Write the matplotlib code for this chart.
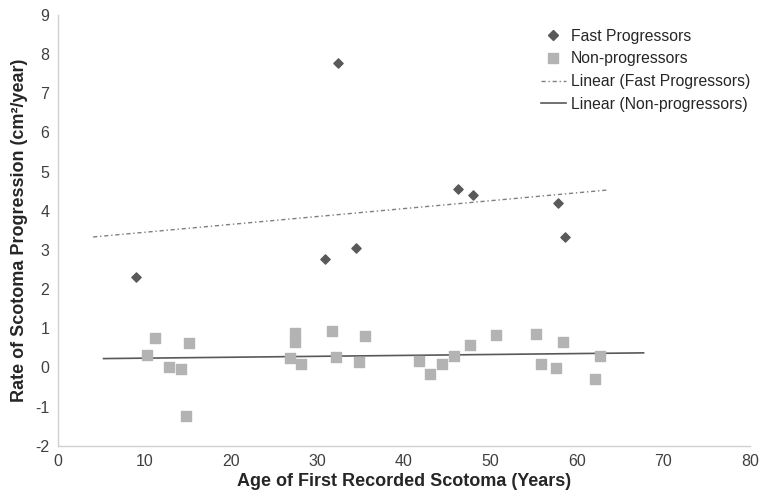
import numpy as np
import matplotlib
matplotlib.use('Agg')
import matplotlib.pyplot as plt
from matplotlib.lines import Line2D

plt.rcParams['font.family'] = ['Liberation Sans', 'DejaVu Sans']
plt.rcParams['axes.unicode_minus'] = False

# Fast progressors (age, rate)
fast_age = [9.1, 30.9, 32.4, 34.5, 46.2, 48.0, 57.8, 58.6]
fast_rate = [2.30, 2.77, 7.77, 3.05, 4.55, 4.40, 4.20, 3.33]

# Non-progressors (age, rate)
non_age = [10.3, 11.3, 12.9, 14.2, 15.2, 14.8, 26.9, 27.4, 27.4, 28.1, 31.7, 32.2,
           34.8, 35.5, 41.7, 43.0, 44.4, 45.8, 47.6, 50.6, 55.3, 55.8, 57.6, 58.4,
           62.1, 62.7]
non_rate = [0.32, 0.75, 0.00, -0.04, 0.63, -1.25, 0.25, 0.87, 0.66, 0.09, 0.92, 0.26,
            0.13, 0.79, 0.16, -0.16, 0.08, 0.30, 0.57, 0.83, 0.84, 0.08, -0.01, 0.65,
            -0.29, 0.29]

xticks = list(range(0, 81, 10))
yticks = list(range(-2, 10))

fig = plt.figure(figsize=(7.63, 4.97), dpi=100)
ax = fig.add_axes([0.0756, 0.1032, 0.9074, 0.867])


def trend(x, y, extend=5):
    # excel-style linear trendline with 5 units forecast both ways
    k, b = np.polyfit(x, y, 1)
    xs = np.array([min(x) - extend, max(x) + extend])
    return xs, k * xs + b


ax.scatter(fast_age, fast_rate, marker='D', s=22, color='#595959', zorder=3)
ax.scatter(non_age, non_rate, marker='s', s=50, color='#b3b3b3', zorder=3)

tx, ty = trend(fast_age, fast_rate)
ax.plot(tx, ty, color='#7f7f7f', lw=1.0, dashes=(3, 2, 1, 2), zorder=2)
tx, ty = trend(non_age, non_rate)
ax.plot(tx, ty, color='#595959', lw=1.2, zorder=2)

ax.set_xlim(0, 80)
ax.set_ylim(-2, 9)
ax.set_xticks(xticks)
ax.set_yticks(yticks)
ax.tick_params(length=0, labelsize=11.5, labelcolor='#404040', pad=6)

for s in ['top', 'right']:
    ax.spines[s].set_visible(False)
for s in ['left', 'bottom']:
    ax.spines[s].set_color('#d0d0d0')
    ax.spines[s].set_linewidth(1.0)

ax.set_xlabel('Age of First Recorded Scotoma (Years)', fontsize=13, fontweight='bold',
              color='#262626', labelpad=3)
ax.set_ylabel('Rate of Scotoma Progression (cm\u00b2/year)', fontsize=13, fontweight='bold',
              color='#262626', labelpad=5)

handles = [
    Line2D([], [], marker='D', color='#595959', ls='none', markersize=5),
    Line2D([], [], marker='s', color='#b3b3b3', ls='none', markersize=7),
    Line2D([], [], color='#7f7f7f', lw=1.0, dashes=(3, 2, 1, 2)),
    Line2D([], [], color='#595959', lw=1.2),
]
labels = ['Fast Progressors', 'Non-progressors', 'Linear (Fast Progressors)',
          'Linear (Non-progressors)']
leg = ax.legend(handles, labels, loc='upper right', bbox_to_anchor=(1.02, 1.0),
                frameon=False, fontsize=11.3, handlelength=1.6, handletextpad=0.3,
                labelspacing=0.48)
for t in leg.get_texts():
    t.set_color('#262626')

fig.savefig('out.png', dpi=100)
